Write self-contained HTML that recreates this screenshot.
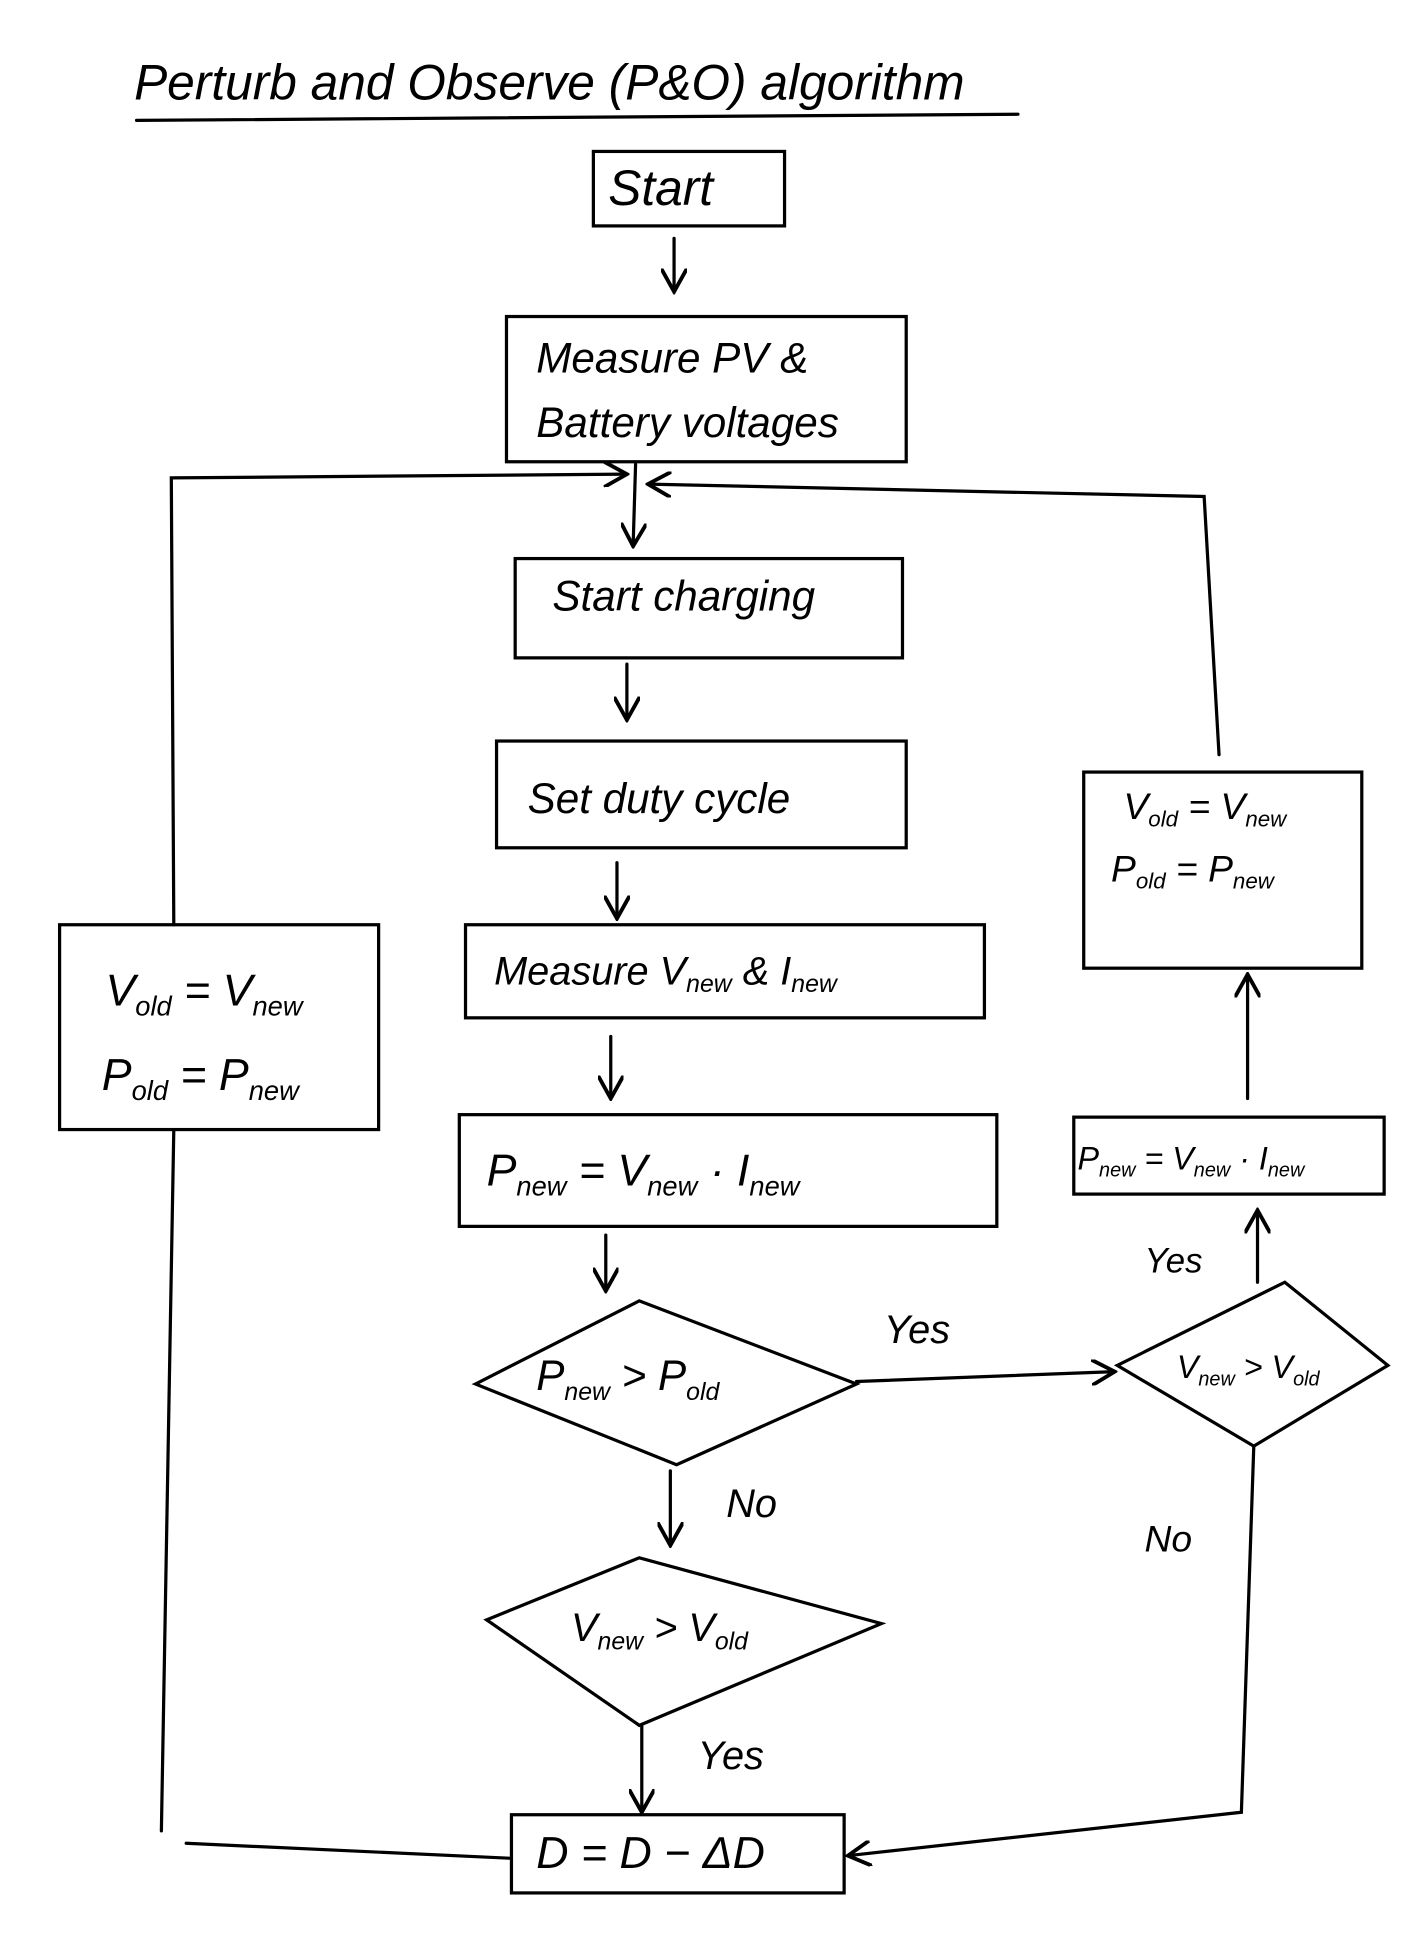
<!DOCTYPE html>
<html><head><meta charset="utf-8"><style>
html,body{margin:0;padding:0;background:#fff;}
svg{display:block}
text{font-family:"Liberation Sans",sans-serif;font-style:italic;fill:#000;}
</style></head><body>
<svg width="1404" height="1937" viewBox="0 0 1131 1560.5" preserveAspectRatio="none" xmlns="http://www.w3.org/2000/svg">
<defs><marker id="a" viewBox="0 0 10 10" refX="9" refY="5" markerWidth="8" markerHeight="8" orient="auto"><path d="M0,0 L9,5 L0,10" fill="none" stroke="#000" stroke-width="1.5"/></marker></defs>
<g fill="none" stroke="#000" stroke-width="2.6" stroke-linecap="round">
<line x1="110" y1="97" x2="820" y2="92"/>
<rect x="478" y="122" width="154" height="60"/>
<line x1="543" y1="192" x2="543" y2="235" marker-end="url(#a)"/>
<rect x="408" y="255" width="322" height="117"/>
<line x1="512" y1="374" x2="510" y2="440" marker-end="url(#a)"/>
<polyline points="140,745 138,385 505,382" marker-end="url(#a)"/>
<polyline points="982,608 970,400 522,390" marker-end="url(#a)"/>
<rect x="415" y="450" width="312" height="80"/>
<line x1="505" y1="535" x2="505" y2="580" marker-end="url(#a)"/>
<rect x="400" y="597" width="330" height="86"/>
<line x1="497" y1="695" x2="497" y2="740" marker-end="url(#a)"/>
<rect x="375" y="745" width="418" height="75"/>
<line x1="492" y1="835" x2="492" y2="885" marker-end="url(#a)"/>
<rect x="370" y="898" width="433" height="90"/>
<line x1="488" y1="995" x2="488" y2="1040" marker-end="url(#a)"/>
<polygon points="383,1115 515,1048 690,1115 545,1180"/>
<line x1="690" y1="1113" x2="898" y2="1105" marker-end="url(#a)"/>
<polygon points="900,1100 1035,1033 1118,1100 1010,1165"/>
<line x1="1013" y1="1033" x2="1013" y2="975" marker-end="url(#a)"/>
<rect x="865" y="900" width="250" height="62"/>
<line x1="1005" y1="885" x2="1005" y2="785" marker-end="url(#a)"/>
<rect x="873" y="622" width="224" height="158"/>
<line x1="540" y1="1185" x2="540" y2="1245" marker-end="url(#a)"/>
<polygon points="392,1305 515,1255 710,1308 515,1390"/>
<line x1="517" y1="1390" x2="517" y2="1460" marker-end="url(#a)"/>
<rect x="412" y="1462" width="268" height="63"/>
<polyline points="1010,1165 1000,1460 683,1495" marker-end="url(#a)"/>
<rect x="48" y="745" width="257" height="165"/>
<line x1="140" y1="910" x2="130" y2="1475"/>
<line x1="150" y1="1485" x2="410" y2="1497"/>
</g>
<text x="108" y="80" font-size="40">Perturb and Observe (P&amp;O) algorithm</text>
<text x="490" y="165" font-size="40">Start</text>
<text x="432" y="300" font-size="34">Measure PV &amp;</text>
<text x="432" y="352" font-size="34">Battery voltages</text>
<text x="445" y="492" font-size="34">Start charging</text>
<text x="425" y="655" font-size="34">Set duty cycle</text>
<text x="398" y="793" font-size="32">Measure V<tspan font-size="20" dy="6">new</tspan><tspan dy="-6"> &amp; I</tspan><tspan font-size="20" dy="6">new</tspan></text>
<text x="392" y="955" font-size="36">P<tspan font-size="22" dy="8">new</tspan><tspan dy="-8"> = V</tspan><tspan font-size="22" dy="8">new</tspan><tspan dy="-8"> · I</tspan><tspan font-size="22" dy="8">new</tspan></text>
<text x="432" y="1120" font-size="34">P<tspan font-size="20" dy="8">new</tspan><tspan dy="-8"> &gt; P</tspan><tspan font-size="20" dy="8">old</tspan></text>
<text x="712" y="1082" font-size="32">Yes</text>
<text x="948" y="1110" font-size="26">V<tspan font-size="16" dy="6">new</tspan><tspan dy="-6"> &gt; V</tspan><tspan font-size="16" dy="6">old</tspan></text>
<text x="922" y="1025" font-size="28">Yes</text>
<text x="868" y="942" font-size="26">P<tspan font-size="16" dy="6">new</tspan><tspan dy="-6"> = V</tspan><tspan font-size="16" dy="6">new</tspan><tspan dy="-6"> · I</tspan><tspan font-size="16" dy="6">new</tspan></text>
<text x="905" y="660" font-size="30">V<tspan font-size="18" dy="6">old</tspan><tspan dy="-6"> = V</tspan><tspan font-size="18" dy="6">new</tspan></text>
<text x="895" y="710" font-size="30">P<tspan font-size="18" dy="6">old</tspan><tspan dy="-6"> = P</tspan><tspan font-size="18" dy="6">new</tspan></text>
<text x="585" y="1222" font-size="32">No</text>
<text x="460" y="1322" font-size="32">V<tspan font-size="20" dy="7">new</tspan><tspan dy="-7"> &gt; V</tspan><tspan font-size="20" dy="7">old</tspan></text>
<text x="562" y="1425" font-size="32">Yes</text>
<text x="922" y="1250" font-size="30">No</text>
<text x="432" y="1505" font-size="36">D = D − ΔD</text>
<text x="85" y="810" font-size="36">V<tspan font-size="22" dy="8">old</tspan><tspan dy="-8"> = V</tspan><tspan font-size="22" dy="8">new</tspan></text>
<text x="82" y="878" font-size="36">P<tspan font-size="22" dy="8">old</tspan><tspan dy="-8"> = P</tspan><tspan font-size="22" dy="8">new</tspan></text>
</svg>
</body></html>
